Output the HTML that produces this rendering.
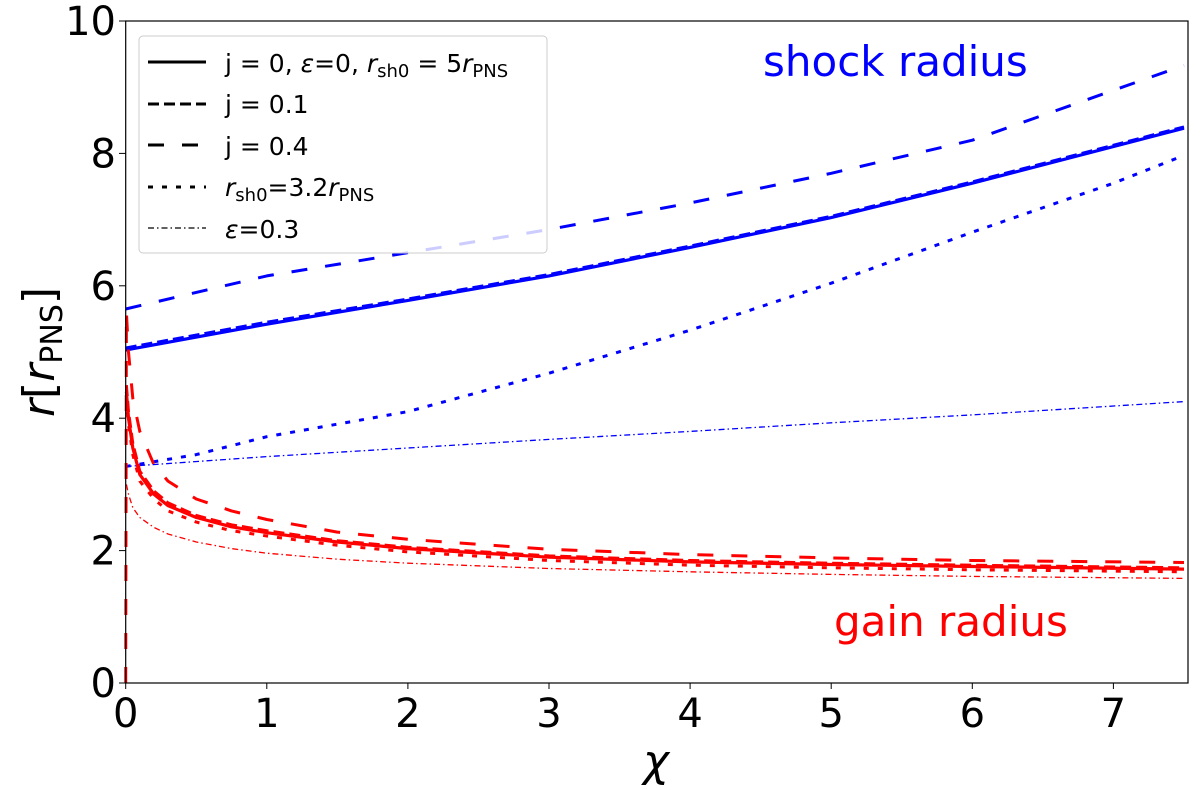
<!DOCTYPE html>
<html><head><meta charset="utf-8"><style>
body{margin:0;background:#fff;}
svg text{font-family:"DejaVu Sans","Liberation Sans",sans-serif;}
</style></head><body>
<svg id="chart" width="1200" height="785" xmlns="http://www.w3.org/2000/svg">
<g id="series"></g>
<rect x="125.7" y="21" width="1062.3" height="662" fill="none" stroke="#000" stroke-width="1.2"/>
<g id="axes"></g>
<g>
<rect x="139" y="36" width="408" height="217" rx="4" fill="#fff" fill-opacity="0.8" stroke="#ccc"/>
<line x1="148" y1="62" x2="206" y2="62" stroke="#000" stroke-width="3"/>
<line x1="148" y1="104" x2="206" y2="104" stroke="#000" stroke-width="3" stroke-dasharray="11,5"/>
<line x1="148" y1="145" x2="206" y2="145" stroke="#000" stroke-width="3" stroke-dasharray="16,18"/>
<line x1="148" y1="187" x2="206" y2="187" stroke="#000" stroke-width="3" stroke-dasharray="5,9"/>
<line x1="148" y1="228" x2="206" y2="228" stroke="#000" stroke-width="1.2" stroke-dasharray="6,3,1.5,3"/>
<text x="225" y="72" font-size="25">j = 0, <tspan font-style="italic">ε</tspan>=0, <tspan font-style="italic">r</tspan><tspan font-size="18" dy="5">sh0</tspan><tspan dy="-5"> = 5</tspan><tspan font-style="italic">r</tspan><tspan font-size="18" dy="5">PNS</tspan></text>
<text x="225" y="113" font-size="25">j = 0.1</text>
<text x="225" y="155" font-size="25">j = 0.4</text>
<text x="225" y="196" font-size="25"><tspan font-style="italic">r</tspan><tspan font-size="18" dy="5">sh0</tspan><tspan dy="-5">=3.2</tspan><tspan font-style="italic">r</tspan><tspan font-size="18" dy="5">PNS</tspan></text>
<text x="225" y="238" font-size="25"><tspan font-style="italic">ε</tspan>=0.3</text>
</g>
<text x="763" y="76" font-size="42" fill="#0000ff">shock radius</text>
<text x="834" y="636" font-size="42" fill="#ff0000">gain radius</text>
<text x="656" y="776" font-size="44" font-style="italic" text-anchor="middle">χ</text>
<text transform="translate(54,352) rotate(-90)" font-size="44" text-anchor="middle"><tspan font-style="italic">r</tspan>[<tspan font-style="italic">r</tspan><tspan font-size="30" dy="8">PNS</tspan><tspan dy="-8">]</tspan></text>
</svg>
<script>
const xTicks=[0,1,2,3,4,5,6,7];
const yTicks=[0,2,4,6,8,10];
const chiShock=[0,1,2,3,4,5,6,7.5];
const shockJ0=[5.03,5.42,5.78,6.15,6.58,7.03,7.55,8.38];
const shockJ01=[5.06,5.45,5.8,6.17,6.6,7.05,7.57,8.4];
const shockJ04=[5.65,6.15,6.5,6.85,7.25,7.7,8.2,9.33];
const chiDot=[0,0.5,1,2,3,4,5,6,7,7.5];
const shockRsh=[3.27,3.45,3.72,4.1,4.68,5.33,6.04,6.81,7.55,7.97];
const chiEps=[0,1,2,3,4,5,6,7.5];
const shockEps=[3.27,3.42,3.55,3.68,3.8,3.93,4.05,4.25];
const chiGain=[0.005,0.02,0.05,0.1,0.2,0.3,0.5,0.75,1,1.5,2,3,4,5,6,7.5];
const gainJ0=[4.4,4.0,3.55,3.15,2.85,2.68,2.5,2.36,2.27,2.13,2.03,1.9,1.83,1.79,1.76,1.72];
const gainJ01=[4.5,4.1,3.62,3.2,2.9,2.72,2.53,2.39,2.3,2.15,2.05,1.92,1.85,1.81,1.78,1.74];
const gainJ04=[5.6,5.0,4.3,3.8,3.3,3.05,2.78,2.6,2.47,2.28,2.17,2.02,1.94,1.89,1.85,1.82];
const gainRsh=[4.3,3.9,3.45,3.05,2.78,2.6,2.43,2.3,2.22,2.08,1.98,1.85,1.78,1.74,1.71,1.68];
const gainEps=[3.0,2.85,2.65,2.5,2.35,2.25,2.13,2.03,1.96,1.87,1.81,1.73,1.68,1.64,1.61,1.58];
const X=v=>125.7+v*141.1, Y=v=>683-v*66.2;
const NS='http://www.w3.org/2000/svg';
const sg=document.getElementById('series'), ax=document.getElementById('axes');
function line(xs,ys,color,w,dash,name){
  const p=document.createElementNS(NS,'path');
  p.setAttribute('d',xs.map((x,i)=>(i?'L':'M')+X(x).toFixed(1)+','+Y(ys[i]).toFixed(1)).join(''));
  p.setAttribute('fill','none');p.setAttribute('stroke',color);p.setAttribute('stroke-width',w);
  p.setAttribute('stroke-linejoin','round');
  if(dash)p.setAttribute('stroke-dasharray',dash);
  
  
  sg.appendChild(p);
}
line(chiShock,shockJ04,'#0000ff',3,'16,18','shock-j04');
line(chiShock,shockJ0,'#0000ff',3.2,null,'shock-j0');
line(chiShock,shockJ01,'#0000ff',3,'11,5','shock-j01');
line(chiDot,shockRsh,'#0000ff',3,'5,9','shock-rsh32');
line(chiEps,shockEps,'#0000ff',1.3,'6,3,1.5,3','shock-eps03');
line([0].concat(chiGain),[0].concat(gainJ04),'#ff0000',3,'16,18','gain-j04');
line(chiGain,gainJ0,'#ff0000',3.2,null,'gain-j0');
line(chiGain,gainJ01,'#ff0000',3,'11,5','gain-j01');
line(chiGain,gainRsh,'#ff0000',3,'5,9','gain-rsh32');
line(chiGain,gainEps,'#ff0000',1.3,'6,3,1.5,3','gain-eps03');
xTicks.forEach(t=>{
  const l=document.createElementNS(NS,'line');
  l.setAttribute('x1',X(t));l.setAttribute('x2',X(t));l.setAttribute('y1',683);l.setAttribute('y2',689);l.setAttribute('stroke','#000');
  
  
  ax.appendChild(l);
  const s=document.createElementNS(NS,'text');
  s.setAttribute('x',X(t));s.setAttribute('y',727);s.setAttribute('font-size','40');s.setAttribute('text-anchor','middle');
  s.textContent=t;
  
  
  ax.appendChild(s);
});
yTicks.forEach(t=>{
  const l=document.createElementNS(NS,'line');
  l.setAttribute('x1',119);l.setAttribute('x2',125.7);l.setAttribute('y1',Y(t));l.setAttribute('y2',Y(t));l.setAttribute('stroke','#000');
  
  
  ax.appendChild(l);
  const s=document.createElementNS(NS,'text');
  s.setAttribute('x',116);s.setAttribute('y',Y(t)+14);s.setAttribute('font-size','40');s.setAttribute('text-anchor','end');
  s.textContent=t;
  
  
  ax.appendChild(s);
});
</script>
</body></html>
